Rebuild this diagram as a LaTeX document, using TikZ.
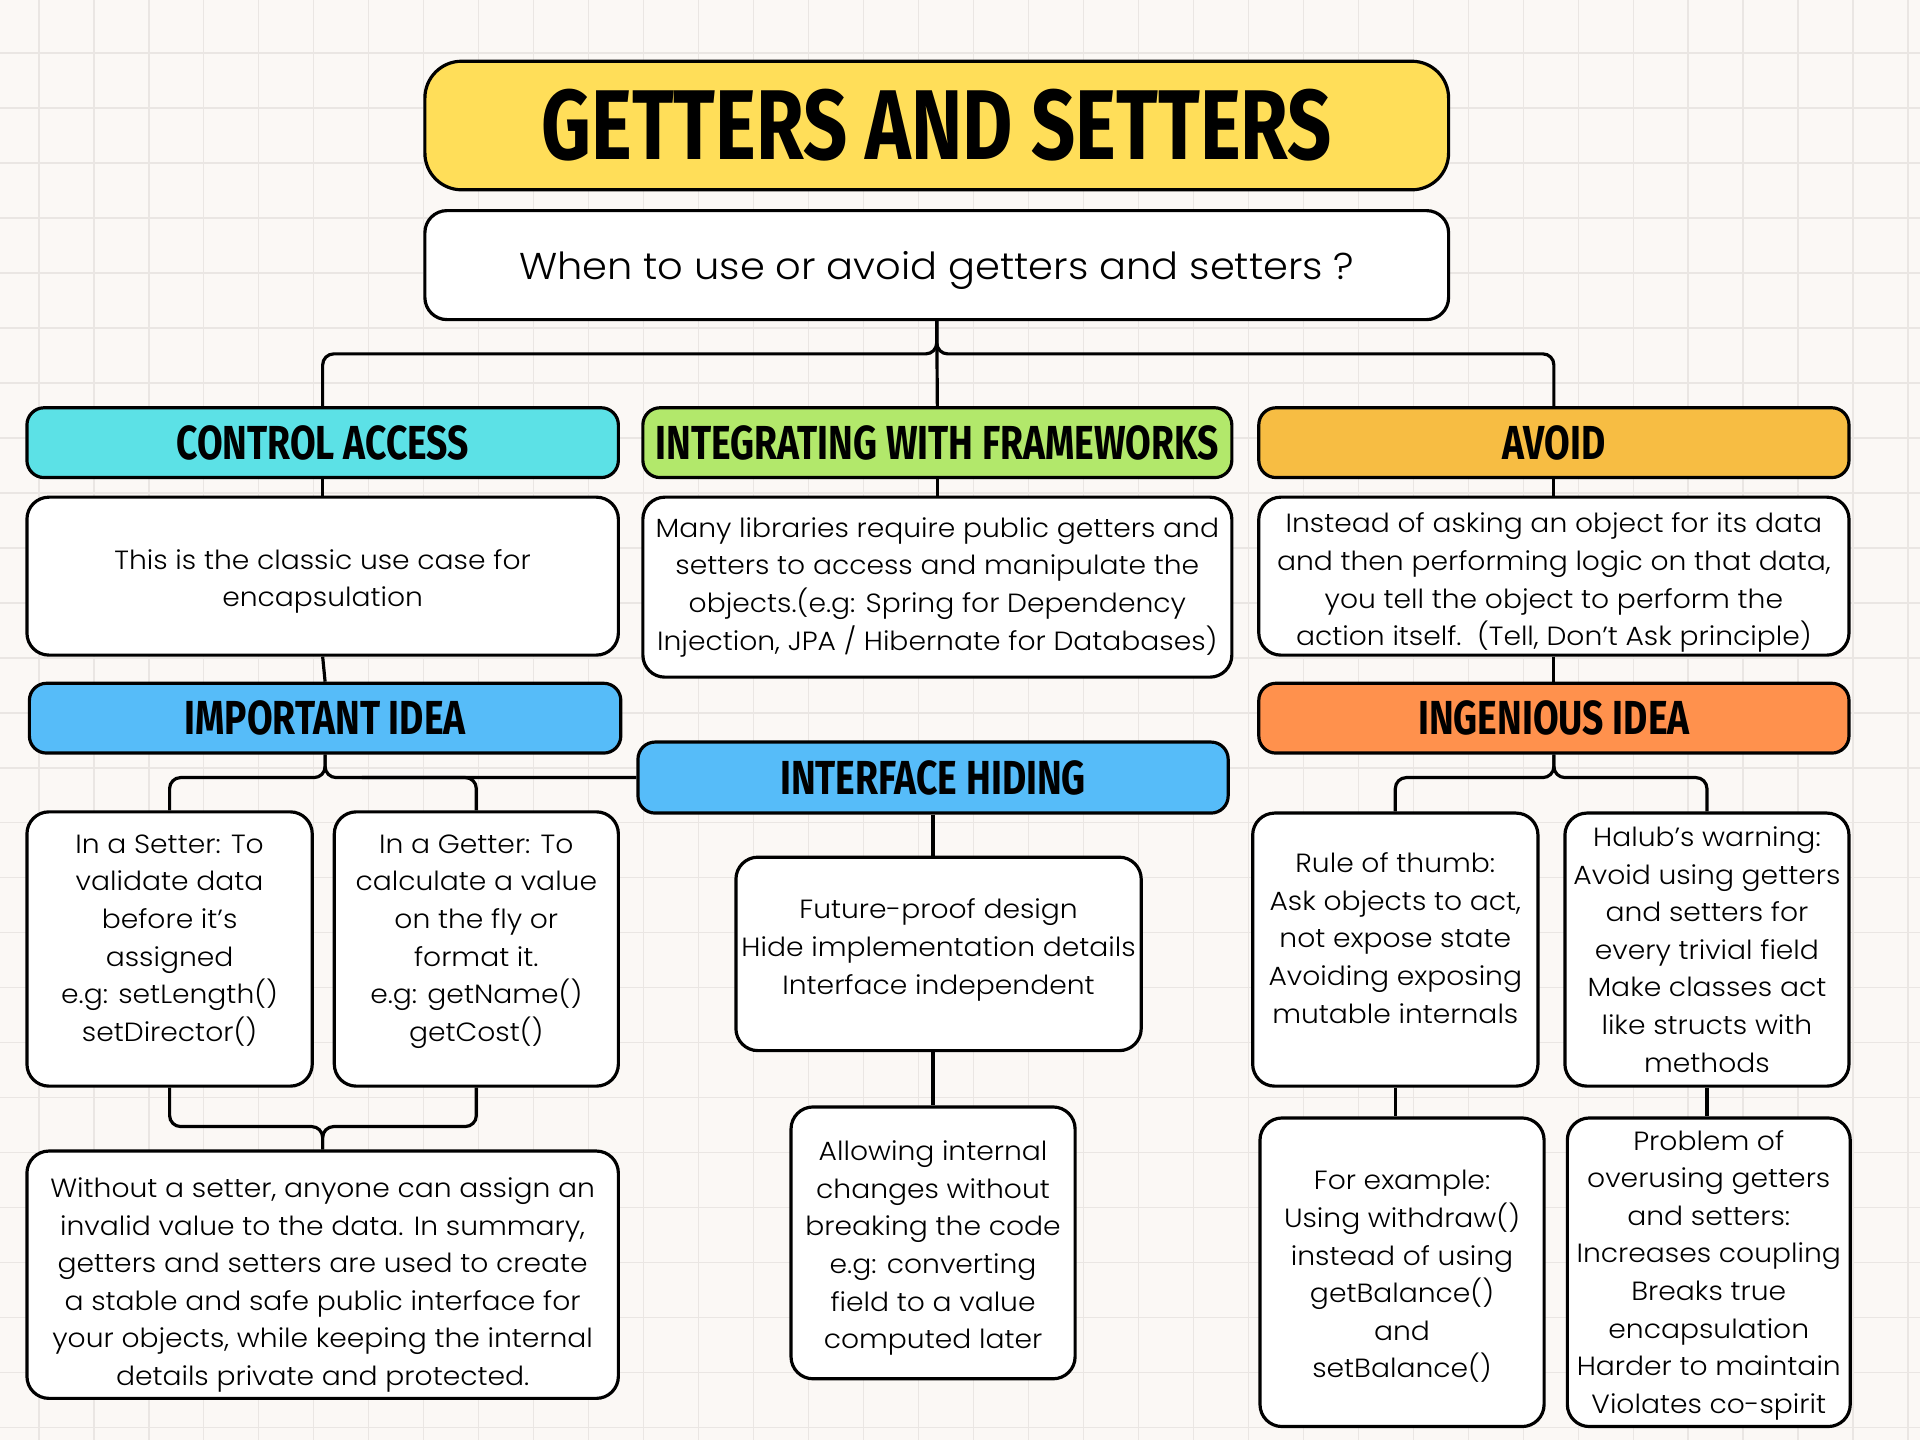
\documentclass[tikz,border=0pt]{standalone}
\usepackage{fontspec}
\newfontfamily\bodyfont{Poppins Light}[FakeStretch=1.07]
\newfontfamily\headfont{Fira Sans}[FakeStretch=0.78]

\definecolor{paper}{HTML}{FBF8F5}
\definecolor{gridline}{HTML}{EAE6E3}
\definecolor{titleyellow}{HTML}{FFDE59}
\definecolor{headcyan}{HTML}{5CE1E6}
\definecolor{headgreen}{HTML}{B2E86B}
\definecolor{headamber}{HTML}{F7BD43}
\definecolor{headblue}{HTML}{56BCF9}
\definecolor{headorange}{HTML}{FF914D}

% zero-width strut that gives the first text line extra height, lowering the block
\newcommand\textlift[1]{\rule{0pt}{#1}}

\tikzset{
  frame/.style={draw=black, line width=2.6pt, inner sep=0pt},
  card/.style={frame, fill=white, rounded corners=18pt, align=center,
    font=\bodyfont\fontsize{21.5}{30.7}\selectfont},
  banner/.style={frame, rounded corners=14pt, minimum height=57pt,
    font=\headfont\bfseries\fontsize{39}{42}\selectfont},
  wire/.style={draw=black, line width=2.6pt, rounded corners=9pt},
}

\begin{document}
\begin{tikzpicture}[x=1pt,y=-1pt]
  % squared paper
  \fill[paper] (0,0) rectangle (1568,1176);
  \useasboundingbox (0,0) rectangle (1568,1176);
  \foreach \i in {0,...,34}
    \draw[gridline, line width=1.2pt] ({31.7+44.9*\i},0) -- ++(0,1176);
  \foreach \j in {0,...,25}
    \draw[gridline, line width=1.2pt] (0,{43.3+44.9*\j}) -- ++(1568,0);

  % title and question
  \node[frame, fill=titleyellow, rounded corners=30pt, minimum width=836pt, minimum height=105pt,
        font=\headfont\bfseries\fontsize{81}{84}\selectfont] (title) at (765,102.5) {GETTERS AND SETTERS};
  \node[card, minimum width=836pt, minimum height=89pt, font=\bodyfont\fontsize{30.5}{36}\selectfont]
        (question) at (765,216.5) {\textlift{31pt}When to use or avoid getters and setters ?};

  % three branches
  \node[banner, fill=headcyan, minimum width=483pt] (control) at (263.5,361.5) {CONTROL ACCESS};
  \node[banner, fill=headgreen, minimum width=481pt] (frameworks) at (765.5,361.5) {INTEGRATING WITH FRAMEWORKS};
  \node[banner, fill=headamber, minimum width=482pt] (avoid) at (1269,361.5) {AVOID};

  \node[card, minimum width=483pt, minimum height=129pt] (controltxt) at (263.5,470.5)
    {\textlift{25pt}This is the classic use case for\\encapsulation};
  \node[card, minimum width=481pt, minimum height=147pt] (frameworkstxt) at (765.5,479.5)
    {Many libraries require public getters and\\setters to access and manipulate the\\objects.(e.g: Spring for Dependency\\Injection, JPA / Hibernate for Databases)};
  \node[card, minimum width=482pt, minimum height=129pt] (avoidtxt) at (1269,470.5)
    {\textlift{27pt}Instead of asking an object for its data\\and then performing logic on that data,\\you tell the object to perform the\\action itself.\ \ (Tell, Don’t Ask principle)};

  \node[banner, fill=headblue, minimum width=483pt] (important) at (265.5,586.5) {IMPORTANT IDEA};
  \node[banner, fill=headorange, minimum width=482pt] (ingenious) at (1269,586.5) {INGENIOUS IDEA};
  \node[banner, fill=headblue, minimum width=482pt, minimum height=58pt] (hiding) at (762,635) {INTERFACE HIDING};

  % control access details
  \node[card, minimum width=233pt, minimum height=224pt] (setter) at (138.5,775)
    {\textlift{23pt}In a Setter: To\\validate data\\before it’s\\assigned\\e.g: setLength()\\setDirector()\\[-5pt]\mbox{}};
  \node[card, minimum width=232pt, minimum height=224pt] (getter) at (389,775)
    {\textlift{23pt}In a Getter: To\\calculate a value\\on the fly or\\format it.\\e.g: getName()\\getCost()\\[-5pt]\mbox{}};
  \node[card, minimum width=483pt, minimum height=202pt] (summary) at (263.5,1041)
    {\textlift{33pt}Without a setter, anyone can assign an\\invalid value to the data. In summary,\\getters and setters are used to create\\a stable and safe public interface for\\your objects, while keeping the internal\\details private and protected.};

  % interface hiding details
  \node[card, minimum width=331pt, minimum height=158pt] (future) at (766.5,779)
    {\textlift{23pt}Future-proof design\\Hide implementation details\\Interface independent\\[-12pt]\mbox{}};
  \node[card, minimum width=232pt, minimum height=222pt] (internal) at (762,1015)
    {\textlift{25pt}Allowing internal\\changes without\\breaking the code\\e.g: converting\\field to a value\\computed later};

  % ingenious idea details
  \node[card, minimum width=233pt, minimum height=223pt] (thumb) at (1139.5,775.5)
    {\textlift{23pt}Rule of thumb:\\Ask objects to act,\\not expose state\\Avoiding exposing\\mutable internals\\[-5pt]\mbox{}};
  \node[card, minimum width=232pt, minimum height=223pt] (halub) at (1394,775.5)
    {Halub’s warning:\\Avoid using getters\\and setters for\\every trivial field\\Make classes act\\like structs with\\methods};
  \node[card, minimum width=232pt, minimum height=252pt] (example) at (1145,1039)
    {\textlift{23pt}For example:\\Using withdraw()\\instead of using\\getBalance()\\and\\setBalance()};
  \node[card, minimum width=231pt, minimum height=252pt] (problem) at (1395.5,1039)
    {\textlift{21pt}Problem of\\overusing getters\\and setters:\\Increases coupling\\Breaks true\\encapsulation\\Harder to maintain\\Violates co-spirit};

  % junction levels
  \coordinate (topfork) at (0,289);
  \coordinate (midfork) at (0,635);
  \coordinate (lowfork) at (0,920);

  % connectors from the question
  \draw[wire] (question.south) -- (question.south |- topfork) -- (control.north |- topfork) -- (control.north);
  \draw[wire] (question.south) -- (question.south |- topfork) -- (avoid.north |- topfork) -- (avoid.north);
  \draw[wire] (question.south) -- (frameworks.north);

  % vertical chains
  \draw[wire] (control.south) -- (controltxt.north);
  \draw[wire] (controltxt.south) -- (important.north);
  \draw[wire] (frameworks.south) -- (frameworkstxt.north);
  \draw[wire] (avoid.south) -- (avoidtxt.north);
  \draw[wire] (avoidtxt.south) -- (ingenious.north);

  % important idea fork
  \draw[wire] (important.south) -- (important.south |- midfork) -- (setter.north |- midfork) -- (setter.north);
  \draw[wire] (important.south) -- (important.south |- midfork) -- (hiding.west);
  \draw[wire] ([xshift=30pt]important.south |- midfork) -- (getter.north |- midfork) -- (getter.north);

  % merge into the summary
  \draw[wire] (setter.south) -- (setter.south |- lowfork) -- (summary.north |- lowfork) -- (summary.north);
  \draw[wire] (getter.south) -- (getter.south |- lowfork) -- (summary.north |- lowfork) -- (summary.north);

  % interface hiding chain
  \draw[wire] (hiding.south) -- (hiding.south |- future.north);
  \draw[wire] (future.south -| internal.north) -- (internal.north);

  % ingenious idea fork
  \draw[wire] (ingenious.south) -- (ingenious.south |- midfork) -- (thumb.north |- midfork) -- (thumb.north);
  \draw[wire] (ingenious.south) -- (ingenious.south |- midfork) -- (halub.north |- midfork) -- (halub.north);
  \draw[wire] (thumb.south) -- (thumb.south |- example.north);
  \draw[wire] (halub.south) -- (halub.south |- problem.north);
\end{tikzpicture}
\end{document}
